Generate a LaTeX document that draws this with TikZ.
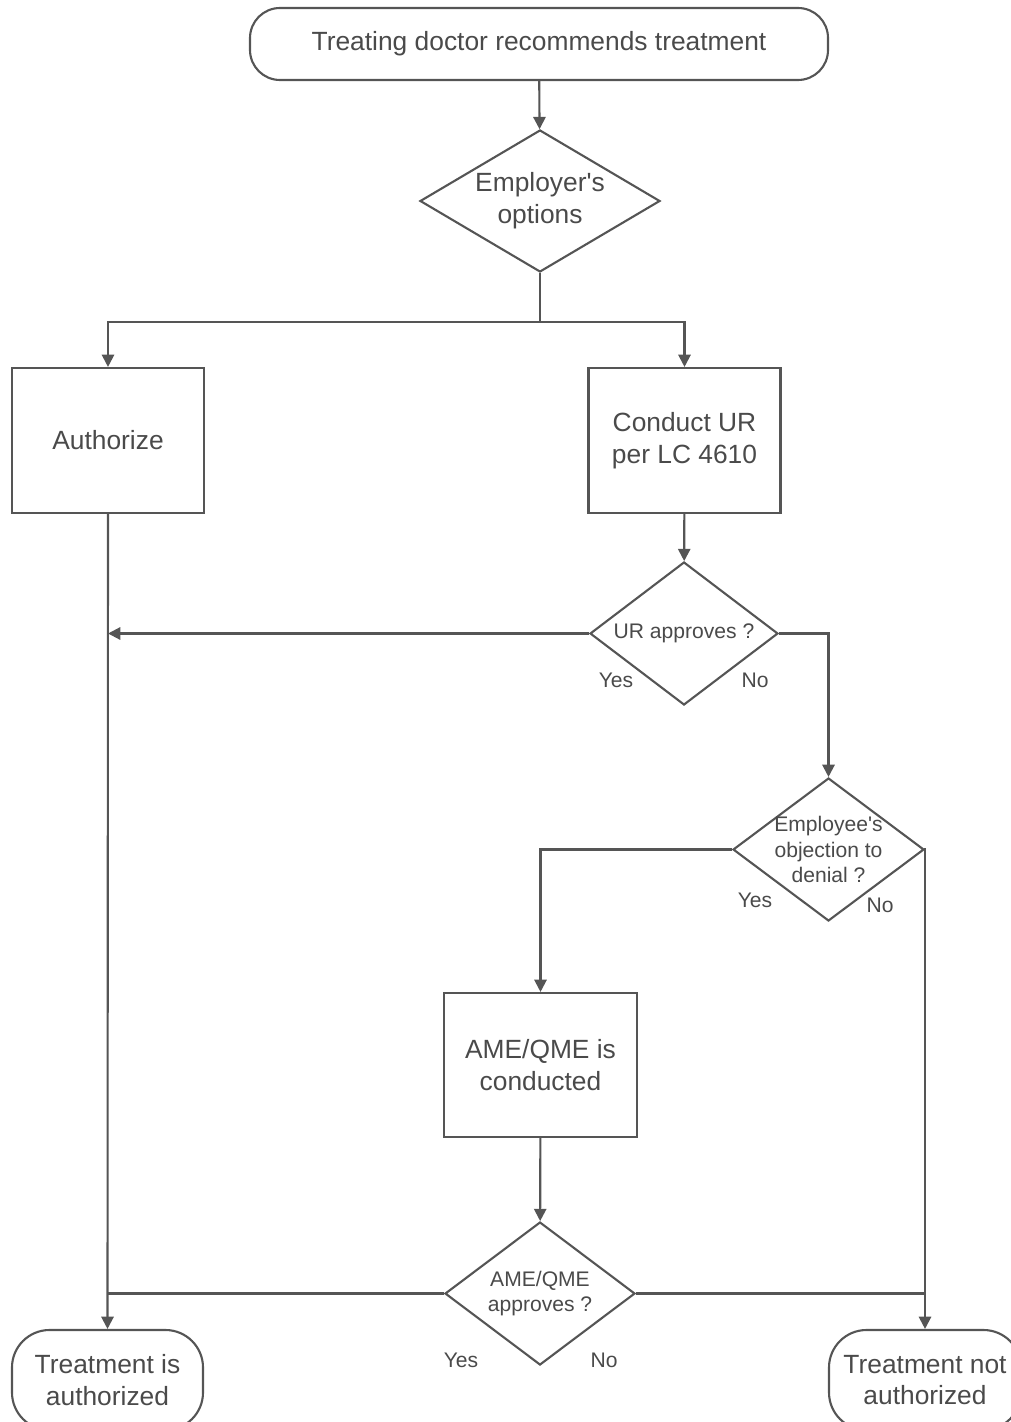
\documentclass[tikz,border=0pt]{standalone}
\usepackage{fontspec}
\newfontfamily\chartfont{Liberation Sans}
\usepackage{tikz}
\usetikzlibrary{arrows.meta,shapes.geometric,calc}

\definecolor{flowgray}{HTML}{555555}
\definecolor{textgray}{HTML}{4A4A4A}

\begin{document}
\begin{tikzpicture}

	\tikzstyle flow lines=[draw=flowgray, line width=1.2pt];
	\tikzstyle flow arrow=[flow lines, -{Triangle[length=7pt,width=7pt]}];
	\tikzstyle big text=[text=textgray, font=\chartfont\fontsize{15}{18}\selectfont, align=center];
	\tikzstyle small text=[text=textgray, font=\chartfont\fontsize{12}{14.5}\selectfont, align=center];
	\tikzstyle process box=[flow lines, big text, rectangle, inner sep=0pt, minimum width=3.84cm, minimum height=2.9cm];
	\tikzstyle terminal box=[flow lines, big text, rectangle, rounded corners=0.75cm, inner sep=0pt];
	\tikzstyle decision box=[flow lines, diamond, aspect=1.33, inner sep=0pt, minimum width=3.8cm, minimum height=2.86cm];
	\tikzstyle answer=[small text, inner sep=1pt];

	\useasboundingbox (0,0) rectangle (20.2,-28.44);

	% top of the chart
	\node[terminal box, rounded corners=0.6cm, minimum width=11.56cm, minimum height=1.44cm] (start) at (10.78,-0.88) {Treating doctor recommends treatment};
	\node[decision box, big text, aspect=1.69, minimum width=4.8cm, minimum height=2.84cm] (options) at (10.8,-4.02) {Employer's\\options};

	\node[process box] (authorize) at (2.16,-8.81) {Authorize};
	\node[process box] (conduct) at (13.69,-8.81) {Conduct UR\\per LC 4610};

	% decisions
	\node[decision box, small text, minimum width=3.76cm] (urok) at (13.68,-12.67) {UR approves ?};
	\node[decision box, small text, inner sep=-3pt, minimum width=3.82cm] (objection) at (16.57,-16.99) {Employee's\\objection to\\denial ?};

	\node[process box, minimum width=3.86cm, minimum height=2.88cm] (ameqme) at (10.81,-21.3) {AME/QME is\\conducted};
	\node[decision box, small text] (ameok) at (10.8,-25.87) {AME/QME\\approves ?};

	% end points
	\node[terminal box, minimum width=3.82cm, minimum height=2cm] (authorized) at (2.15,-27.6) {Treatment is\\authorized};
	\node[terminal box, minimum width=3.84cm, minimum height=2cm] (denied) at (18.5,-27.6) {Treatment not\\authorized};

	\node[answer] (uryes) at (12.32,-13.6) {Yes};
	\node[answer] (urno) at (15.1,-13.6) {No};
	\node[answer] (objyes) at (15.1,-18.0) {Yes};
	\node[answer] (objno) at (17.6,-18.1) {No};
	\node[answer] (ameyes) at (9.22,-27.2) {Yes};
	\node[answer] (ameno) at (12.08,-27.2) {No};

	% connectors
	\coordinate (fork) at (10.8,-6.44);
	\coordinate (urjoin) at (urok.west -| authorize.south);
	\coordinate (amejoin) at (ameok.west -| authorized.north);
	\coordinate (nojoin) at (ameok.east -| denied.north);

	\draw[flow arrow] (start) -- (options);
	\draw[flow lines] (options.south) -- (fork);
	\draw[flow arrow] (fork) -| (authorize.north);
	\draw[flow arrow] (fork) -| (conduct.north);
	\draw[flow arrow] (conduct) -- (urok);
	\draw[flow arrow] (urok.west) -- (urjoin);
	\draw[flow arrow] (urok.east) -| (objection.north);
	\draw[flow arrow] (objection.west) -| (ameqme.north);
	\draw[flow arrow] (objection.east) -| (denied.north);
	\draw[flow arrow] (ameqme) -- (ameok);
	\draw[flow arrow] (authorize.south) -- (authorized.north);
	\draw[flow lines] (ameok.west) -- (amejoin);
	\draw[flow lines] (ameok.east) -- (nojoin);

\end{tikzpicture}
\end{document}
